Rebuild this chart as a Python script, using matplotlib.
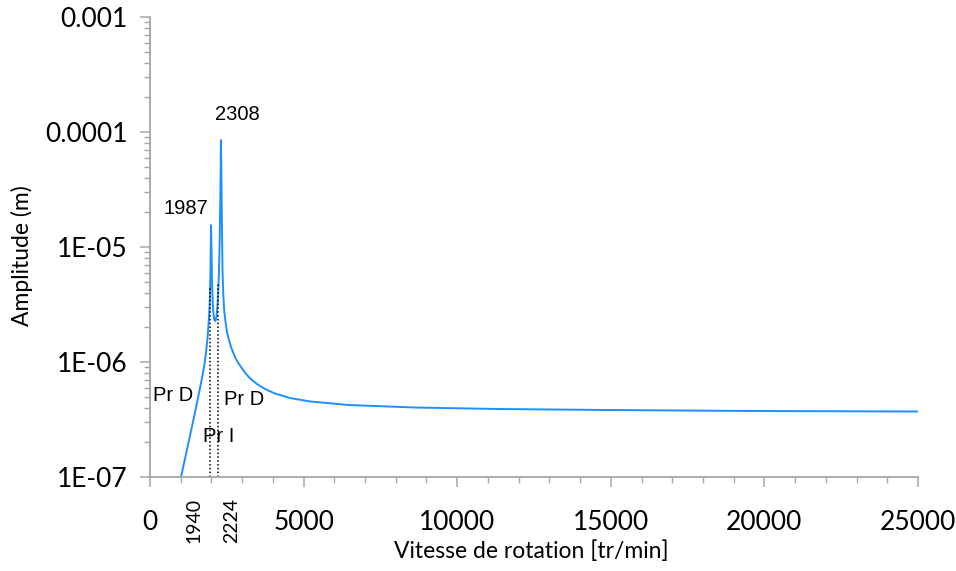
import matplotlib
matplotlib.use("Agg")
import matplotlib.pyplot as plt
from matplotlib.ticker import FixedLocator, LogLocator, NullFormatter, FixedFormatter

# Rotor response: rotation speed (tr/min)
speed = [1009, 1172, 1335, 1481, 1595, 1693, 1774, 1833, 1872, 1904, 1930,
         1953, 1969, 1979, 1987, 2003, 2018, 2041, 2067, 2093, 2116, 2142,
         2171, 2197, 2223, 2246, 2269, 2288, 2301, 2308, 2320, 2333, 2347,
         2360, 2386, 2415, 2458, 2506, 2572, 2637, 2712, 2799, 2897, 2995,
         3092, 3200, 3320, 3483, 3743, 4069, 4557, 5208, 6445, 8626, 11393,
         14648, 19531, 25000]
# Amplitude (m)
amplitude = [1.0e-7, 1.58e-7, 2.51e-7, 3.83e-7, 5.37e-7, 7.26e-7, 9.6e-7,
             1.27e-6, 1.62e-6, 2.10e-6, 2.72e-6, 3.83e-6, 6.31e-6, 1.04e-5,
             1.55e-5, 9.4e-6, 5.16e-6, 3.33e-6, 2.61e-6, 2.34e-6, 2.27e-6,
             2.32e-6, 2.56e-6, 3.13e-6, 4.23e-6, 6.31e-6, 1.15e-5, 2.56e-5,
             5.16e-5, 8.5e-5, 5.16e-5, 2.56e-5, 1.15e-5, 6.31e-6, 3.83e-6,
             2.83e-6, 2.23e-6, 1.82e-6, 1.55e-6, 1.35e-6, 1.20e-6, 1.06e-6,
             9.6e-7, 8.78e-7, 8.1e-7, 7.48e-7, 6.97e-7, 6.44e-7, 5.82e-7,
             5.32e-7, 4.86e-7, 4.54e-7, 4.23e-7, 4.02e-7, 3.90e-7, 3.83e-7,
             3.75e-7, 3.71e-7]

# Critical speeds marked by dotted lines
crit_speeds = [1940, 2224]
crit_tops = [4.6e-6, 4.9e-6]

# Peak labels
peak_speeds = [1987, 2308]

x_ticks = [0, 5000, 10000, 15000, 20000, 25000]
y_ticks = [1e-7, 1e-6, 1e-5, 1e-4, 1e-3]
y_tick_labels = ["1E-07", "1E-06", "1E-05", "0.0001", "0.001"]

W, H = 956, 571
fig = plt.figure(figsize=(W / 100, H / 100), dpi=100)
ax = fig.add_axes([150 / W, 1 - 477 / H, (918 - 150) / W, (477 - 17) / H])

line_color = "#1e8fff"
axis_color = "#a6a6a6"
tick_font = "Lato"
note_font = "Liberation Sans"

ax.plot(speed, amplitude, color=line_color, lw=1.4, solid_joinstyle="round")

for s, top in zip(crit_speeds, crit_tops):
    ax.plot([s, s], [1e-7, top], color="black", lw=1.1, ls=(0, (1, 1.5)))

ax.set_yscale("log")
ax.set_xlim(0, 25000)
ax.set_ylim(1e-7, 1e-3)

ax.xaxis.set_major_locator(FixedLocator(x_ticks))
ax.xaxis.set_minor_locator(FixedLocator(list(range(0, 25001, 1000))))
ax.yaxis.set_major_locator(FixedLocator(y_ticks))
ax.yaxis.set_major_formatter(FixedFormatter(y_tick_labels))
ax.yaxis.set_minor_locator(LogLocator(base=10, subs=range(2, 10)))
ax.yaxis.set_minor_formatter(NullFormatter())

for side in ["top", "right"]:
    ax.spines[side].set_visible(False)
for side in ["left", "bottom"]:
    ax.spines[side].set_color(axis_color)
    ax.spines[side].set_linewidth(1.3)

ax.tick_params(axis="both", which="major", length=7, width=1.1, color=axis_color,
               labelsize=19, labelcolor="black", direction="out")
ax.tick_params(axis="both", which="minor", length=4, width=1.0, color=axis_color,
               direction="out")
ax.tick_params(axis="x", which="major", pad=17)
ax.tick_params(axis="y", which="major", pad=9)
for lbl in ax.get_xticklabels() + ax.get_yticklabels():
    lbl.set_fontfamily(tick_font)

# Rotated labels for the critical speeds
ax.annotate(str(crit_speeds[0]), xy=(crit_speeds[0], 1e-7), xycoords="data",
            xytext=(-11, -31), textcoords="offset points", rotation=90,
            ha="center", va="center", fontsize=14, family=tick_font)
ax.annotate(str(crit_speeds[1]), xy=(crit_speeds[1], 1e-7), xycoords="data",
            xytext=(9.5, -31), textcoords="offset points", rotation=90,
            ha="center", va="center", fontsize=14, family=tick_font)

# Peak and zone annotations
ax.text(1172, 2.18e-5, str(peak_speeds[0]), ha="center", va="center",
        fontsize=14.5, family=note_font)
ax.text(2850, 1.41e-4, str(peak_speeds[1]), ha="center", va="center",
        fontsize=14.5, family=note_font)
ax.text(749, 5.16e-7, "Pr D", ha="center", va="center", fontsize=14.5, family=note_font)
ax.text(3060, 4.68e-7, "Pr D", ha="center", va="center", fontsize=14.5, family=note_font)
ax.text(2246, 2.23e-7, "Pr I", ha="center", va="center", fontsize=14.5, family=note_font)

fig.text(531 / W, 1 - 551 / H, "Vitesse de rotation [tr/min]", ha="center", va="center",
         fontsize=16.5, family=tick_font)
fig.text(22 / W, 1 - 256 / H, "Amplitude (m)", ha="center", va="center",
         rotation=90, fontsize=16.5, family=tick_font)

fig.savefig("out.png", dpi=100)
